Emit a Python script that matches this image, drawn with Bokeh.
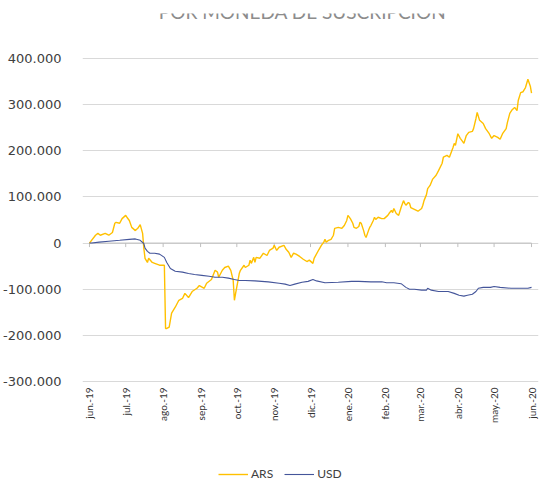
import math
import pandas as pd
from bokeh.plotting import figure
from bokeh.models import FixedTicker, Legend, LegendItem, ColumnDataSource
from bokeh.core.properties import value
from bokeh.embed import file_html
from bokeh.resources import INLINE

title_text = "POR MONEDA DE SUSCRIPCIÓN"
series_names = ["ARS", "USD"]

ars_dates = [
    "2019-06-01", "2019-06-06", "2019-06-08", "2019-06-10", "2019-06-14", "2019-06-17", "2019-06-20",
    "2019-06-22", "2019-06-23", "2019-06-26", "2019-06-28", "2019-07-01", "2019-07-02", "2019-07-04",
    "2019-07-06", "2019-07-09", "2019-07-11", "2019-07-13", "2019-07-15", "2019-07-16", "2019-07-17",
    "2019-07-19", "2019-07-20", "2019-07-23", "2019-07-25", "2019-07-29", "2019-08-02", "2019-08-03",
    "2019-08-04", "2019-08-06", "2019-08-08", "2019-08-11", "2019-08-14", "2019-08-17", "2019-08-19",
    "2019-08-22", "2019-08-25", "2019-08-29", "2019-08-31", "2019-09-04", "2019-09-06", "2019-09-10",
    "2019-09-13", "2019-09-15", "2019-09-16", "2019-09-19", "2019-09-21", "2019-09-24", "2019-09-26",
    "2019-09-28", "2019-09-29", "2019-09-30", "2019-10-02", "2019-10-03", "2019-10-04", "2019-10-07",
    "2019-10-08", "2019-10-11", "2019-10-12", "2019-10-13", "2019-10-15", "2019-10-16", "2019-10-17",
    "2019-10-20", "2019-10-23", "2019-10-26", "2019-10-28", "2019-10-31", "2019-11-01", "2019-11-03",
    "2019-11-05", "2019-11-09", "2019-11-11", "2019-11-13", "2019-11-15", "2019-11-17", "2019-11-19",
    "2019-11-22", "2019-11-25", "2019-11-28", "2019-11-30", "2019-12-03", "2019-12-04", "2019-12-08",
    "2019-12-10", "2019-12-12", "2019-12-13", "2019-12-14", "2019-12-16", "2019-12-18", "2019-12-20",
    "2019-12-21", "2019-12-24", "2019-12-27", "2019-12-29", "2019-12-31", "2020-01-01", "2020-01-03",
    "2020-01-05", "2020-01-06", "2020-01-08", "2020-01-10", "2020-01-11", "2020-01-12", "2020-01-14",
    "2020-01-15", "2020-01-16", "2020-01-18", "2020-01-19", "2020-01-20", "2020-01-22", "2020-01-23",
    "2020-01-24", "2020-01-26", "2020-01-29", "2020-01-31", "2020-02-03", "2020-02-04", "2020-02-06",
    "2020-02-07", "2020-02-08", "2020-02-10", "2020-02-12", "2020-02-14", "2020-02-16", "2020-02-17",
    "2020-02-18", "2020-02-20", "2020-02-21", "2020-02-22", "2020-02-25", "2020-02-28", "2020-03-02",
    "2020-03-03", "2020-03-04", "2020-03-06", "2020-03-07", "2020-03-09", "2020-03-11", "2020-03-14",
    "2020-03-16", "2020-03-19", "2020-03-20", "2020-03-23", "2020-03-25", "2020-03-28", "2020-03-29",
    "2020-03-30", "2020-04-01", "2020-04-03", "2020-04-05", "2020-04-06", "2020-04-08", "2020-04-10",
    "2020-04-13", "2020-04-14", "2020-04-16", "2020-04-17", "2020-04-19", "2020-04-22", "2020-04-24",
    "2020-04-27", "2020-04-29", "2020-05-01", "2020-05-04", "2020-05-06", "2020-05-08", "2020-05-11",
    "2020-05-12", "2020-05-14", "2020-05-16", "2020-05-18", "2020-05-20", "2020-05-21", "2020-05-23",
    "2020-05-25", "2020-05-27", "2020-05-29", "2020-05-31", "2020-06-01",
]
ars_values = [
    0, 17000, 21000, 17000, 21000, 17000, 23000,
    43000, 45000, 43000, 53000, 60000, 56000, 49000,
    34000, 27000, 32000, 40000, 21000, -11000, -33000,
    -42000, -33000, -42000, -44000, -48000, -48000, -185000,
    -185000, -182000, -152000, -139000, -124000, -120000, -109000,
    -118000, -105000, -98000, -92000, -98000, -87000, -79000,
    -59000, -63000, -74000, -59000, -53000, -50000, -59000,
    -81000, -124000, -109000, -81000, -66000, -59000, -48000,
    -53000, -48000, -37000, -44000, -31000, -42000, -31000,
    -33000, -22000, -27000, -16000, -11000, -5000, -16000,
    -9000, -5000, -14000, -20000, -31000, -22000, -24000,
    -29000, -35000, -40000, -37000, -44000, -33000, -14000,
    -5000, 2000, 8000, 2000, 6000, 8000, 17000,
    32000, 34000, 32000, 38000, 49000, 60000, 53000,
    43000, 34000, 32000, 36000, 45000, 43000, 27000,
    17000, 12000, 27000, 34000, 38000, 49000, 56000,
    51000, 56000, 53000, 53000, 60000, 64000, 71000,
    66000, 75000, 64000, 60000, 77000, 92000, 86000,
    82000, 88000, 86000, 77000, 73000, 69000, 75000,
    82000, 92000, 105000, 118000, 125000, 138000, 147000,
    157000, 173000, 186000, 190000, 186000, 207000, 216000,
    212000, 237000, 227000, 220000, 216000, 233000, 240000,
    242000, 248000, 270000, 283000, 266000, 259000, 248000,
    237000, 227000, 233000, 229000, 225000, 237000, 248000,
    261000, 281000, 289000, 294000, 287000, 309000, 326000,
    328000, 337000, 355000, 340000, 325000,
]

usd_dates = [
    "2019-06-01", "2019-06-03", "2019-06-09", "2019-06-17", "2019-06-26", "2019-07-04", "2019-07-09",
    "2019-07-13", "2019-07-16", "2019-07-17", "2019-07-19", "2019-07-21", "2019-07-25", "2019-07-29",
    "2019-08-02", "2019-08-04", "2019-08-07", "2019-08-11", "2019-08-17", "2019-08-22", "2019-08-27",
    "2019-09-02", "2019-09-08", "2019-09-13", "2019-09-19", "2019-09-24", "2019-09-29", "2019-10-03",
    "2019-10-08", "2019-10-16", "2019-10-27", "2019-11-05", "2019-11-10", "2019-11-14", "2019-11-18",
    "2019-11-24", "2019-11-29", "2019-12-03", "2019-12-06", "2019-12-13", "2019-12-24", "2020-01-04",
    "2020-01-10", "2020-01-20", "2020-01-29", "2020-02-02", "2020-02-08", "2020-02-14", "2020-02-18",
    "2020-02-21", "2020-02-25", "2020-03-02", "2020-03-06", "2020-03-07", "2020-03-10", "2020-03-16",
    "2020-03-24", "2020-03-29", "2020-04-02", "2020-04-06", "2020-04-09", "2020-04-13", "2020-04-16",
    "2020-04-18", "2020-04-22", "2020-04-28", "2020-05-01", "2020-05-06", "2020-05-15", "2020-05-23",
    "2020-05-29", "2020-06-01",
]
usd_values = [
    0, 0, 2000, 4000, 6000, 8000, 9000,
    6000, -1000, -11000, -18000, -22000, -22000, -24000,
    -31000, -42000, -55000, -61000, -63000, -66000, -68000,
    -70000, -72000, -74000, -74000, -76000, -79000, -81000,
    -81000, -82000, -84000, -87000, -89000, -92000, -89000,
    -85000, -83000, -79000, -82000, -86000, -85000, -83000,
    -83000, -84000, -84000, -86000, -86000, -88000, -96000,
    -100000, -100000, -102000, -102000, -98000, -102000, -105000,
    -105000, -109000, -113000, -115000, -113000, -111000, -105000,
    -98000, -96000, -96000, -94000, -96000, -98000, -98000,
    -98000, -96000,
]

month_ticks = ["2019-06-01", "2019-07-01", "2019-08-01", "2019-09-01", "2019-10-01", "2019-11-01",
               "2019-12-01", "2020-01-01", "2020-02-01", "2020-03-01", "2020-04-01", "2020-05-01",
               "2020-06-01"]
month_labels = ["jun.-19", "jul.-19", "ago.-19", "sep.-19", "oct.-19", "nov.-19", "dic.-19",
                "ene.-20", "feb.-20", "mar.-20", "abr.-20", "may.-20", "jun.-20"]
y_ticks = [-300000, -200000, -100000, 0, 100000, 200000, 300000, 400000]

# ---------------------------------------------------------------
W, H = 540, 481
frame_top, frame_bottom = 13, H          # frame spans down to the canvas bottom
y_lo_px, y_hi_px = 381, 58               # pixel rows of the lowest / highest y tick
x_lo_px, x_hi_px = 87, 531               # pixel columns of the first / last month tick
pad_px = 7                               # room for the outer rotated labels

upp = (max(y_ticks) - min(y_ticks)) / (y_lo_px - y_hi_px)   # data units per pixel (y)
y_end = max(y_ticks) + (y_hi_px - frame_top) * upp
y_start = min(y_ticks) - (frame_bottom - y_lo_px) * upp

x_first = pd.Timestamp(month_ticks[0])
x_last = pd.Timestamp(month_ticks[-1])
x_pad = (x_last - x_first) * (pad_px / (x_hi_px - x_lo_px))
x_start, x_end = x_first - x_pad, x_last + x_pad

tick_dates = pd.to_datetime(month_ticks)
tick_ms = [int(t.value // 10**6) for t in tick_dates]
x_overrides = {t: lab for t, lab in zip(tick_ms, month_labels)}
y_overrides = {v: f"{v:,}".replace(",", ".") for v in y_ticks}

p = figure(width=W, height=H, x_axis_type="datetime",
           x_range=(x_start, x_end), y_range=(y_start, y_end),
           output_backend="svg", toolbar_location=None,
           min_border_left=x_lo_px - pad_px, min_border_right=W - (x_hi_px + pad_px),
           min_border_top=frame_top, min_border_bottom=0)
p.outline_line_color = None
p.background_fill_color = "white"
p.border_fill_color = "white"

ars_src = ColumnDataSource(dict(x=pd.to_datetime(ars_dates), y=ars_values))
usd_src = ColumnDataSource(dict(x=pd.to_datetime(usd_dates), y=usd_values))

# zero line with small month tick marks
p.segment(x0=[x_first], y0=[0], x1=[x_last], y1=[0], line_color="#BFBFBF", line_width=1)
p.segment(x0=tick_dates, y0=[0] * len(tick_dates), x1=tick_dates, y1=[-4 * upp] * len(tick_dates),
          line_color="#BFBFBF", line_width=1)

r_ars = p.line("x", "y", source=ars_src, line_color="#FFC000", line_width=1.4)
r_usd = p.line("x", "y", source=usd_src, line_color="#44559A", line_width=1.1)

# title (its upper part is hidden, as in the reference)
title_x = x_first + (x_last - x_first) * 0.482
title_y = max(y_ticks) + (y_hi_px - 11) * upp
p.text(x=[title_x], y=[title_y], text=[title_text], text_font=value("Lato"),
       text_font_size="19px", text_color="#8c8c8c", text_align="center",
       text_baseline="alphabetic")

# grid (limited to the data span)
p.xgrid.visible = False
p.ygrid.grid_line_color = "#D9D9D9"
p.ygrid.grid_line_width = 1
p.ygrid.bounds = (tick_ms[0], tick_ms[-1])

# y axis
p.yaxis.ticker = FixedTicker(ticks=y_ticks)
p.yaxis.major_label_overrides = y_overrides
p.yaxis.axis_line_color = None
p.yaxis.major_tick_line_color = None
p.yaxis.major_tick_out = 0
p.yaxis.major_tick_in = 0
p.yaxis.minor_tick_line_color = None
p.yaxis.major_label_standoff = 14 + pad_px
p.yaxis.major_label_text_font = "DejaVu Sans"
p.yaxis.major_label_text_font_size = "13px"
p.yaxis.major_label_text_color = "#404040"

# x axis: labels placed under the lowest gridline
xa = p.xaxis[0]
xa.fixed_location = min(y_ticks)
xa.ticker = FixedTicker(ticks=tick_ms)
xa.major_label_overrides = x_overrides
xa.axis_line_color = None
xa.major_tick_line_color = None
xa.major_tick_out = 0
xa.major_tick_in = 0
xa.minor_tick_line_color = None
xa.major_label_orientation = math.pi / 2
xa.major_label_standoff = 6
xa.major_label_text_font = "Lato"
xa.major_label_text_font_size = "10px"
xa.major_label_text_color = "#333333"

legend = Legend(items=[LegendItem(label=series_names[0], renderers=[r_ars]),
                       LegendItem(label=series_names[1], renderers=[r_usd])],
                location=(129 + pad_px, 0), orientation="horizontal",
                glyph_width=30, glyph_height=12, label_standoff=3, spacing=11,
                padding=0, margin=0, border_line_color=None, background_fill_alpha=0,
                label_text_font="Lato", label_text_font_size="12px",
                label_text_color="#404040")
p.add_layout(legend, "center")

open("out.html", "w").write(file_html(p, INLINE))
